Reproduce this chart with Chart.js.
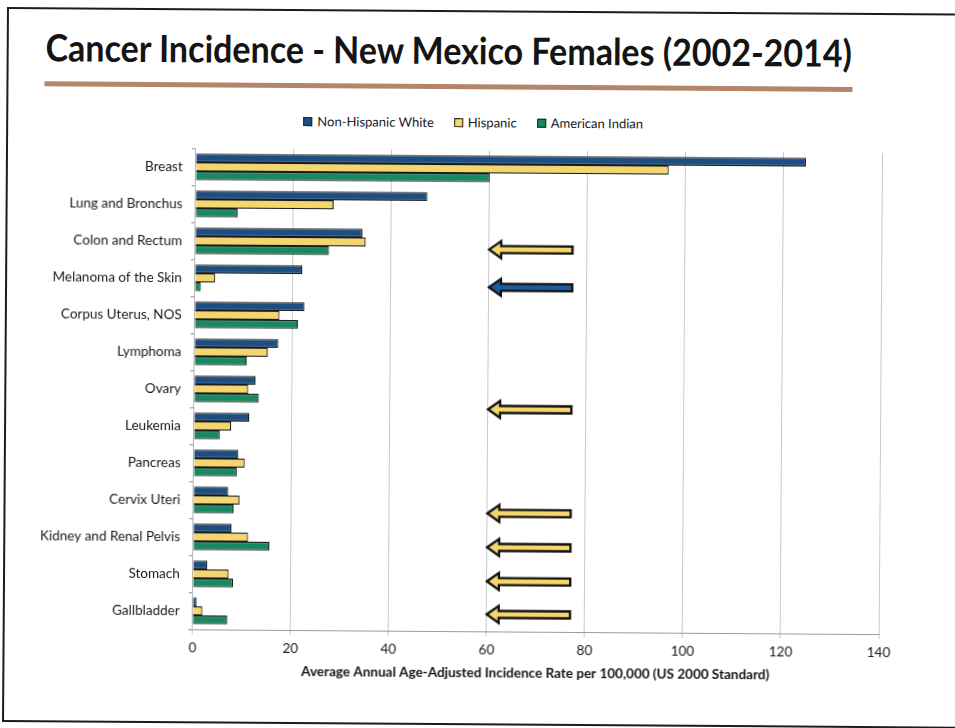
<!DOCTYPE html>
<html>
<head>
<meta charset="utf-8">
<title>Cancer Incidence - New Mexico Females (2002-2014)</title>
<script src="https://cdn.jsdelivr.net/npm/chart.js@4.4.1/dist/chart.umd.min.js"></script>
<style>
  html, body { margin: 0; padding: 0; background: #fff; }
  body { width: 955px; height: 728px; overflow: hidden; position: relative; font-family: Lato, "Open Sans", sans-serif; color: #1a1a1a; }
  #slide {
    position: absolute; left: 7px; top: 7px; width: 980px; height: 715px;
    border: 2px solid #1c1c1c; box-sizing: border-box;
    transform: rotate(0.4deg); transform-origin: 0 0;
  }
  #slide h1 {
    position: absolute; left: 37px; top: 22px; margin: 0;
    font-size: 34px; line-height: 1; font-weight: 700; color: #141414; white-space: nowrap;
    transform: scaleY(1.1); transform-origin: 0 30px;
  }
  .rule { position: absolute; left: 36px; top: 72px; width: 808px; height: 5px; background: #b3866a; }
  #legend {
    position: absolute; left: 0; top: 102px; width: 930px;
    display: flex; justify-content: center; gap: 20px; font-size: 13px; line-height: 16px;
  }
  #legend span { display: flex; align-items: center; }
  #legend i { display: inline-block; width: 7px; height: 7px; border: 1px solid #222; margin-right: 5px; }
  #chart-box { position: absolute; left: 0; top: 89px; }
</style>
</head>
<body>
<div id="slide">
  <h1>Cancer Incidence - New Mexico Females (2002-2014)</h1>
  <div class="rule"></div>
  <div id="legend"></div>
  <div id="chart-box"><canvas id="chart" width="940" height="620"></canvas></div>
</div>
<script>
// Average annual age-adjusted incidence per 100,000, NM females 2002-2014
const sites = [
  'Breast', 'Lung and Bronchus', 'Colon and Rectum', 'Melanoma of the Skin',
  'Corpus Uterus, NOS', 'Lymphoma', 'Ovary', 'Leukemia', 'Pancreas',
  'Cervix Uteri', 'Kidney and Renal Pelvis', 'Stomach', 'Gallbladder'
];
const nonHispanicWhite = [124.5, 47.3, 34.1, 21.9, 22.4, 17.1, 12.5, 11.3, 9.1, 7.1, 7.8, 2.9, 0.8];
const hispanic = [96.5, 28.2, 34.8, 4.1, 17.3, 15.0, 11.0, 7.6, 10.4, 9.4, 11.2, 7.3, 2.0];
const americanIndian = [60.0, 8.6, 27.3, 1.2, 21.1, 10.7, 13.2, 5.3, 8.8, 8.2, 15.6, 8.2, 7.1];

const xTicks = [0, 20, 40, 60, 80, 100, 120, 140];

// call-out arrows (row position on the category axis, fill colour)
const arrowRows = [2.18, 3.2, 6.5, 9.31, 10.23, 11.15, 12.04];
const arrowColors = ['#f4d66b', '#1f5b9a', '#f4d66b', '#f4d66b', '#f4d66b', '#f4d66b', '#f4d66b'];
const arrowTip = 60;
const arrowTail = 77;

const colors = {
  nhw: '#1c4e80',
  hisp: '#f4d66b',
  ai: '#17895e',
  edge: '#1a1a1a'
};

const series = [
  { label: 'Non-Hispanic White', data: nonHispanicWhite, color: colors.nhw },
  { label: 'Hispanic', data: hispanic, color: colors.hisp },
  { label: 'American Indian', data: americanIndian, color: colors.ai }
];

document.getElementById('legend').innerHTML = series.map(s =>
  `<span><i style="background:${s.color}"></i>${s.label}</span>`
).join('');

const arrowPlugin = {
  id: 'rowArrows',
  afterDatasetsDraw(chart) {
    const { ctx, scales: { x, y } } = chart;
    const tip = x.getPixelForValue(arrowTip);
    const tail = x.getPixelForValue(arrowTail);
    const shaft = 3.5, head = 8.5, headLen = 12;
    ctx.save();
    ctx.lineWidth = 2.3;
    ctx.lineJoin = 'miter';
    ctx.strokeStyle = '#111';
    arrowRows.forEach((row, i) => {
      const cy = y.getPixelForValue(row);
      ctx.beginPath();
      ctx.moveTo(tip, cy);
      ctx.lineTo(tip + headLen, cy - head);
      ctx.lineTo(tip + headLen, cy - shaft);
      ctx.lineTo(tail, cy - shaft);
      ctx.lineTo(tail, cy + shaft);
      ctx.lineTo(tip + headLen, cy + shaft);
      ctx.lineTo(tip + headLen, cy + head);
      ctx.closePath();
      ctx.fillStyle = arrowColors[i];
      ctx.fill();
      ctx.stroke();
    });
    ctx.restore();
  }
};

new Chart(document.getElementById('chart'), {
  type: 'bar',
  data: {
    labels: sites,
    datasets: series.map(s => ({
      label: s.label,
      data: s.data,
      backgroundColor: s.color,
      borderColor: colors.edge,
      borderWidth: 1.2,
      categoryPercentage: 0.72,
      barPercentage: 1.0
    }))
  },
  options: {
    indexAxis: 'y',
    responsive: false,
    animation: false,
    layout: { padding: { top: 49, left: 0, right: 66, bottom: 40 } },
    plugins: {
      legend: { display: false },
      tooltip: { enabled: false }
    },
    scales: {
      x: {
        min: 0,
        max: 140,
        afterBuildTicks: (scale) => { scale.ticks = xTicks.map(v => ({ value: v })); },
        afterFit: (scale) => { scale.height = 50; },
        grid: { color: '#c9c9c9', lineWidth: 1, tickLength: 5 },
        border: { color: '#9a9a9a' },
        ticks: { padding: 6, color: '#1a1a1a', font: { family: 'Lato', size: 13.5 } },
        title: {
          display: true,
          text: 'Average Annual Age-Adjusted Incidence Rate per 100,000 (US 2000 Standard)',
          color: '#141414',
          padding: { top: 8, bottom: 0 },
          font: { family: 'Lato', size: 13.5, weight: 'bold' }
        }
      },
      y: {
        afterFit: (scale) => { scale.width = 187.8; },
        grid: { offset: true, drawOnChartArea: false, tickLength: 4, color: '#8a8a8a' },
        border: { color: '#b5b5b5' },
        ticks: { padding: 9, color: '#1a1a1a', font: { family: 'Lato', size: 13.5 } }
      }
    }
  },
  plugins: [arrowPlugin]
});
</script>
</body>
</html>
